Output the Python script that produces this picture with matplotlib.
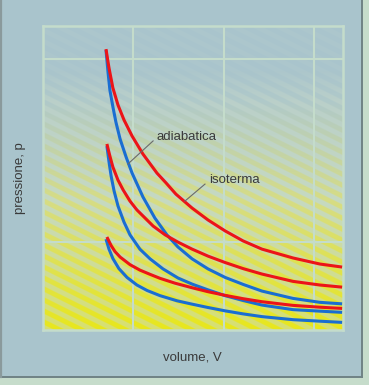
import numpy as np
import matplotlib
matplotlib.use("Agg")
import matplotlib.pyplot as plt
from matplotlib.patches import Rectangle
from matplotlib.lines import Line2D

plt.rcParams['font.family'] = ['Liberation Sans Narrow', 'Liberation Sans', 'DejaVu Sans']

# ---- data (V and p in arbitrary units 0..10) ----
iso1_V = [2.10, 2.20, 2.33, 2.50, 2.70, 2.97, 3.33, 3.80, 4.10, 4.43, 4.97, 5.50, 6.07, 6.67, 7.30, 8.33, 9.23, 9.97]
iso1_p = [9.24, 8.62, 7.96, 7.40, 6.91, 6.38, 5.79, 5.16, 4.84, 4.47, 4.01, 3.62, 3.26, 2.93, 2.66, 2.37, 2.17, 2.07]

adi1_V = [2.10, 2.17, 2.23, 2.33, 2.43, 2.57, 2.77, 2.97, 3.33, 3.73, 4.13, 4.50, 4.97, 5.50, 6.07, 6.67, 7.30, 8.33, 9.23, 9.97]
adi1_p = [9.21, 8.45, 7.89, 7.34, 6.84, 6.28, 5.69, 5.16, 4.38, 3.68, 3.13, 2.73, 2.34, 2.01, 1.73, 1.50, 1.28, 1.04, 0.91, 0.86]

iso2_V = [2.13, 2.23, 2.33, 2.50, 2.67, 2.90, 3.13, 3.67, 4.07, 4.50, 4.97, 5.50, 6.07, 6.67, 7.30, 8.33, 9.23, 9.97]
iso2_p = [6.12, 5.72, 5.36, 4.93, 4.61, 4.24, 3.95, 3.42, 3.13, 2.89, 2.66, 2.43, 2.22, 2.02, 1.84, 1.60, 1.48, 1.41]

adi2_V = [2.13, 2.20, 2.27, 2.37, 2.50, 2.70, 2.90, 3.23, 3.57, 4.00, 4.50, 4.97, 5.50, 6.07, 6.67, 7.30, 8.33, 9.23, 9.97]
adi2_p = [6.05, 5.53, 5.07, 4.57, 4.08, 3.55, 3.13, 2.66, 2.34, 2.01, 1.71, 1.51, 1.32, 1.13, 0.97, 0.82, 0.67, 0.62, 0.58]

iso3_V = [2.13, 2.27, 2.40, 2.57, 2.90, 3.23, 3.57, 3.90, 4.40, 4.97, 5.50, 6.07, 6.67, 7.30, 8.33, 9.23, 9.97]
iso3_p = [3.06, 2.78, 2.58, 2.40, 2.15, 1.97, 1.83, 1.70, 1.54, 1.39, 1.26, 1.14, 1.03, 0.93, 0.81, 0.75, 0.71]

adi3_V = [2.10, 2.20, 2.33, 2.53, 2.80, 3.13, 3.47, 3.90, 4.47, 4.97, 5.50, 6.07, 6.67, 7.30, 8.33, 9.23, 9.97]
adi3_p = [2.99, 2.66, 2.35, 2.02, 1.73, 1.48, 1.30, 1.13, 0.96, 0.85, 0.74, 0.63, 0.53, 0.44, 0.34, 0.29, 0.25]

grid_V = [3.0, 6.03, 9.03]
grid_p = [2.89, 8.91]

label_adiabatica = "adiabatica"
label_isoterma = "isoterma"
xlabel = "volume, V"
ylabel = "pressione, p"

# ---- figure ----
W, H = 369, 385
fig = plt.figure(figsize=(W / 100, H / 100), dpi=100)
fig.patch.set_facecolor('#c6dccb')

# panel background
fig.add_artist(Rectangle((0, 8 / H), 362 / W, 1 - 8 / H, transform=fig.transFigure,
                         facecolor='#a9c4cc', edgecolor='none', zorder=-10))
fig.add_artist(Line2D([362 / W, 362 / W], [8 / H, 1], transform=fig.transFigure,
                      color='#6f8285', lw=1.4, zorder=-9))
fig.add_artist(Line2D([0, 362 / W], [8 / H, 8 / H], transform=fig.transFigure,
                      color='#6f8285', lw=1.4, zorder=-9))
fig.add_artist(Line2D([1 / W, 1 / W], [8 / H, 1], transform=fig.transFigure,
                      color='#8a9a9c', lw=1.6, zorder=-9))

ax = fig.add_axes([43 / W, (H - 330) / H, 300 / W, 304 / H])
ax.set_xlim(0, 10)
ax.set_ylim(0, 10)

# striped gradient background (decorative)
ph, pw = 304, 300
yy, xx = np.mgrid[0:ph, 0:pw]
ypx = 26 + yy
xpx = 43 + xx
t = np.clip((ypx - 70) / (330 - 70), 0, 1)
nodes = [0.0, 0.12, 0.5, 1.0]
A_cols = np.array([[0.663, 0.769, 0.800], [0.690, 0.790, 0.790],
                   [0.840, 0.865, 0.520], [0.910, 0.906, 0.110]])
B_cols = np.array([[0.675, 0.778, 0.800], [0.730, 0.815, 0.790],
                   [0.775, 0.852, 0.760], [0.845, 0.878, 0.440]])
A = np.stack([np.interp(t, nodes, A_cols[:, c]) for c in range(3)], axis=-1)
B = np.stack([np.interp(t, nodes, B_cols[:, c]) for c in range(3)], axis=-1)
w = 0.5 + 0.5 * np.sin(2 * np.pi * (ypx - 0.5 * xpx) / 11.0)
w = np.clip((w - 0.5) * 2.5 + 0.5, 0, 1)[..., None]
img = B + (A - B) * w
ax.imshow(img, extent=[0, 10, 0, 10], aspect='auto', origin='upper',
          interpolation='bilinear', zorder=0)

gcol = '#c4dccb'
for v in grid_V:
    ax.axvline(v, color=gcol, lw=1.5, zorder=1)
for p in grid_p:
    ax.axhline(p, color=gcol, lw=1.5, zorder=1)

for s in ax.spines.values():
    s.set_color(gcol)
    s.set_linewidth(1.8)
ax.set_xticks([])
ax.set_yticks([])

red = '#ec1418'
blue = '#1a6ed2'
lw = 2.2
for V, p in [(adi1_V, adi1_p), (adi2_V, adi2_p), (adi3_V, adi3_p)]:
    ax.plot(V, p, color=blue, lw=lw, solid_joinstyle='round', solid_capstyle='butt', zorder=3)
for V, p in [(iso1_V, iso1_p), (iso2_V, iso2_p), (iso3_V, iso3_p)]:
    ax.plot(V, p, color=red, lw=lw, solid_joinstyle='round', solid_capstyle='butt', zorder=4)

# annotations with leader lines
tcol = '#3a3a3a'
ax.plot([3.67, 2.83], [6.22, 5.46], color='#6a6a6a', lw=0.8, zorder=5)
ax.text(3.78, 6.36, label_adiabatica, fontsize=9.5, color=tcol, ha='left', va='center', zorder=6)
ax.plot([5.40, 4.73], [4.80, 4.24], color='#6a6a6a', lw=0.8, zorder=5)
ax.text(5.53, 4.93, label_isoterma, fontsize=9.5, color=tcol, ha='left', va='center', zorder=6)

fig.text(20 / W, (H - 178) / H, ylabel, rotation=90, fontsize=9.5, color=tcol,
         ha='center', va='center')
fig.text(192 / W, (H - 357) / H, xlabel, fontsize=9.5, color=tcol,
         ha='center', va='center')

fig.savefig('out.png', dpi=100, facecolor=fig.get_facecolor())
